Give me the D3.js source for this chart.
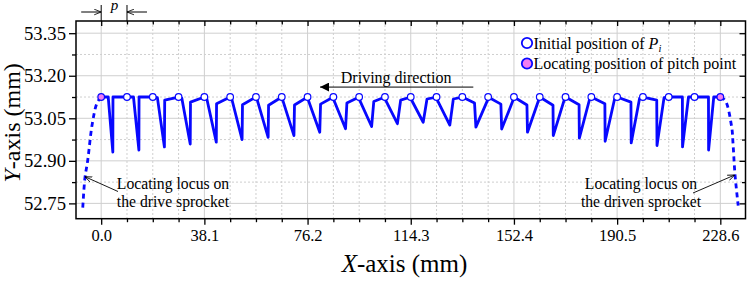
<!DOCTYPE html>
<html>
<head>
<meta charset="utf-8">
<script src="https://cdn.jsdelivr.net/npm/d3@7"></script>
<style>
  body { margin: 0; background: #fff; }
  svg text { font-family: "Liberation Serif", "Times New Roman", serif; fill: #000; }
</style>
</head>
<body>
<div id="chart"></div>
<script>
// pitch points P_i (mm)
const pitchX = [0, 9.525, 19.05, 28.575, 38.1, 47.625, 57.15, 66.675, 76.2, 85.725, 95.25, 104.775,
  114.3, 123.825, 133.35, 142.875, 152.4, 161.925, 171.45, 180.975, 190.5, 200.025, 209.55, 219.075, 228.6];
const pitchY = [53.125, 53.125, 53.125, 53.125, 53.125, 53.125, 53.125, 53.125, 53.125, 53.125, 53.125, 53.125,
  53.125, 53.125, 53.125, 53.125, 53.125, 53.125, 53.125, 53.125, 53.125, 53.125, 53.125, 53.125, 53.125];

// per-pitch trajectory points, x as offset (mm) from the start pitch point
const segAx = [2.6, 2.4, 1.7, 1.2, 0.9, 0.6, 0.4, 0.3, 0.2, 0.1, 0.1, 0.1, 0.1, 0.1, 4.5, 4.7, 4.8, 4.9, 5.0, 5.0, 5.1, 5.1, 5.05, 5.15];
const segAy = [53.125, 53.125, 53.123, 53.121, 53.119, 53.118, 53.117, 53.116, 53.116, 53.116, 53.116, 53.117,
  53.118, 53.118, 53.104, 53.100, 53.097, 53.096, 53.098, 53.101, 53.107, 53.114, 53.125, 53.125];
const segMx = [4.3, 4.4, 4.3, 4.3, 4.4, 4.4, 4.5, 4.5, 4.5, 4.5, 4.6, 4.6, 4.6, 4.9, 5.0, 5.0, 5.0, 5.0, 5.1, 5.1, 5.2, 5.2, 5.1, 5.2];
const segMy = [52.931, 52.938, 52.949, 52.959, 52.966, 52.975, 52.983, 52.989, 53.001, 53.013, 53.021, 53.031,
  53.036, 53.026, 53.019, 53.012, 53.001, 52.989, 52.980, 52.969, 52.963, 52.954, 52.949, 52.938];
const segBx = [4.35, 4.45, 4.4, 4.4, 4.5, 4.55, 4.65, 4.7, 4.8, 5.0, 5.4, 5.8, 6.0, 6.2, 9.4, 9.3, 9.2, 9.1, 8.9, 8.6, 8.3, 7.8, 7.3, 7.1];
const segBy = [53.125, 53.125, 53.114, 53.107, 53.101, 53.098, 53.096, 53.097, 53.100, 53.104, 53.109, 53.114,
  53.118, 53.118, 53.116, 53.116, 53.116, 53.117, 53.118, 53.119, 53.121, 53.123, 53.125, 53.125];

// sprocket loci (dashed)
const driveLocusX = [0, -1.5, -3.3, -5.0, -6.0, -6.8];
const driveLocusY = [53.125, 53.105, 53.03, 52.90, 52.84, 52.735];
const drivenLocusX = [228.6, 230.4, 232.8, 233.3, 234.0, 235.2];
const drivenLocusY = [53.125, 53.113, 53.019, 52.96, 52.854, 52.742];

// axes
const xMajor = [0, 38.1, 76.2, 114.3, 152.4, 190.5, 228.6];
const xMinor = [9.525, 19.05, 28.575, 47.625, 57.15, 66.675, 85.725, 95.25, 104.775, 123.825, 133.35, 142.875,
  161.925, 171.45, 180.975, 200.025, 209.55, 219.075];
const yMajor = [52.75, 52.90, 53.05, 53.20, 53.35];
const yMinor = [52.825, 52.975, 53.125, 53.275];

const W = 747, H = 283;
const svg = d3.select("#chart").append("svg").attr("width", W).attr("height", H);

const pLeft = 76, pRight = 745.5, pTop = 21, pBottom = 218.7;
const x = d3.scaleLinear().domain([-9.3, 237.9]).range([pLeft, pRight]);
const y = d3.scaleLinear().domain([52.696, 53.393]).range([pBottom, pTop]);

// grid
const grid = svg.append("g");
grid.selectAll(".vmaj").data(xMajor).join("line")
  .attr("x1", d => x(d)).attr("x2", d => x(d)).attr("y1", pTop).attr("y2", pBottom)
  .attr("stroke", "#cfcfcf").attr("stroke-width", 1);
grid.selectAll(".vmin").data(xMinor).join("line")
  .attr("x1", d => x(d)).attr("x2", d => x(d)).attr("y1", pTop).attr("y2", pBottom)
  .attr("stroke", "#cfcfcf").attr("stroke-width", 1).attr("stroke-dasharray", "2,2");
grid.selectAll(".hmaj").data(yMajor).join("line")
  .attr("x1", pLeft).attr("x2", pRight).attr("y1", d => y(d)).attr("y2", d => y(d))
  .attr("stroke", "#cfcfcf").attr("stroke-width", 1);
grid.selectAll(".hmin").data(yMinor).join("line")
  .attr("x1", pLeft).attr("x2", pRight).attr("y1", d => y(d)).attr("y2", d => y(d))
  .attr("stroke", "#cfcfcf").attr("stroke-width", 1).attr("stroke-dasharray", "2,2");

// axes: bottom/left outward ticks with labels, top/right inward ticks
function styleAxis(size) {
  return g => {
    g.select(".domain").remove();
    g.selectAll(".tick line").attr("stroke", "#000").attr("stroke-width", 1.3);
    g.selectAll(".tick text").style("font-size", size).style("font-family", "Liberation Serif");
  };
}
svg.append("g").attr("transform", `translate(0,${pBottom})`)
  .call(d3.axisBottom(x).tickValues(xMajor).tickSize(6).tickPadding(5).tickFormat(d3.format(".1f")))
  .call(styleAxis("16.5px"));
svg.append("g").attr("transform", `translate(0,${pBottom})`)
  .call(d3.axisBottom(x).tickValues(xMinor).tickSize(3.5).tickFormat(""))
  .call(styleAxis("16px"));
svg.append("g").attr("transform", `translate(${pLeft},0)`)
  .call(d3.axisLeft(y).tickValues(yMajor).tickSize(7).tickPadding(3).tickFormat(d3.format(".2f")))
  .call(styleAxis("18.7px"));
svg.append("g").attr("transform", `translate(${pLeft},0)`)
  .call(d3.axisLeft(y).tickValues(yMinor).tickSize(4).tickFormat(""))
  .call(styleAxis("16px"));
svg.append("g").attr("transform", `translate(0,${pTop})`)
  .call(d3.axisTop(x).tickValues(xMajor).tickSize(-5).tickFormat(""))
  .call(styleAxis("16px"));
svg.append("g").attr("transform", `translate(0,${pTop})`)
  .call(d3.axisTop(x).tickValues(xMinor).tickSize(-3.5).tickFormat(""))
  .call(styleAxis("16px"));
svg.append("g").attr("transform", `translate(${pRight},0)`)
  .call(d3.axisRight(y).tickValues(yMajor).tickSize(-6).tickFormat(""))
  .call(styleAxis("16px"));
svg.append("g").attr("transform", `translate(${pRight},0)`)
  .call(d3.axisRight(y).tickValues(yMinor).tickSize(-3.5).tickFormat(""))
  .call(styleAxis("16px"));

svg.append("rect").attr("x", pLeft).attr("y", pTop)
  .attr("width", pRight - pLeft).attr("height", pBottom - pTop)
  .attr("fill", "none").attr("stroke", "#000").attr("stroke-width", 1.5);

// axis titles
svg.append("text").attr("x", x(112)).attr("y", 272).attr("text-anchor", "middle")
  .style("font-size", "25px")
  .html('<tspan font-style="italic">X</tspan>-axis (mm)');
svg.append("text").attr("transform", `translate(20,${(pTop + pBottom) / 2 + 3}) rotate(-90)`)
  .attr("text-anchor", "middle").style("font-size", "24px")
  .html('<tspan font-style="italic">Y</tspan>-axis (mm)');

// trajectory
const pts = [];
segAx.forEach((ax, k) => {
  const x0 = pitchX[k];
  pts.push([x0, pitchY[k]]);
  pts.push([x0 + ax, segAy[k]]);
  pts.push([x0 + segMx[k], segMy[k]]);
  pts.push([x0 + segBx[k], segBy[k]]);
});
pts.push([pitchX[pitchX.length - 1], pitchY[pitchY.length - 1]]);

const line = d3.line().x(d => x(d[0])).y(d => y(d[1]));
svg.append("path").datum(pts).attr("d", line)
  .attr("fill", "none").attr("stroke", "#0808ff").attr("stroke-width", 2.8)
  .attr("stroke-linejoin", "round");

const curve = d3.line().x(d => x(d[0])).y(d => y(d[1])).curve(d3.curveCatmullRom);
svg.append("path").datum(driveLocusX.map((d, i) => [d, driveLocusY[i]])).attr("d", curve)
  .attr("fill", "none").attr("stroke", "#0808ff").attr("stroke-width", 2.8).attr("stroke-dasharray", "5,4");
svg.append("path").datum(drivenLocusX.map((d, i) => [d, drivenLocusY[i]])).attr("d", curve)
  .attr("fill", "none").attr("stroke", "#0808ff").attr("stroke-width", 2.8).attr("stroke-dasharray", "5,4");

// pitch point markers
const last = pitchX.length - 1;
svg.selectAll(".pt").data(pitchX).join("circle")
  .attr("cx", d => x(d)).attr("cy", (d, i) => y(pitchY[i])).attr("r", 3.3)
  .attr("fill", (d, i) => (i === 0 || i === last) ? "#f27ef2" : "#fff")
  .attr("stroke", "#0808ff").attr("stroke-width", 1.2);

// legend
const lg = svg.append("g");
lg.append("circle").attr("cx", 527).attr("cy", 43).attr("r", 5.2)
  .attr("fill", "#fff").attr("stroke", "#0808ff").attr("stroke-width", 1.8);
lg.append("text").attr("x", 533.5).attr("y", 48.5).style("font-size", "16px")
  .html('Initial position of <tspan font-style="italic">P</tspan><tspan font-style="italic" font-size="10.5px" dy="3">i</tspan>');
lg.append("circle").attr("cx", 527).attr("cy", 63.5).attr("r", 5.2)
  .attr("fill", "#f27ef2").attr("stroke", "#0808ff").attr("stroke-width", 1.8);
lg.append("text").attr("x", 533.5).attr("y", 69).style("font-size", "16px")
  .text("Locating position of pitch point");

// markers
const defs = svg.append("defs");
defs.append("marker").attr("id", "open").attr("viewBox", "0 0 10 10").attr("refX", 10).attr("refY", 5)
  .attr("markerWidth", 7).attr("markerHeight", 7).attr("markerUnits", "userSpaceOnUse").attr("orient", "auto")
  .append("path").attr("d", "M0,1 L10,5 L0,9").attr("fill", "none").attr("stroke", "#000").attr("stroke-width", 1.2);
defs.append("marker").attr("id", "solid").attr("viewBox", "0 0 10 10").attr("refX", 10).attr("refY", 5)
  .attr("markerWidth", 10).attr("markerHeight", 9).attr("markerUnits", "userSpaceOnUse").attr("orient", "auto")
  .append("path").attr("d", "M0,0 L10,5 L0,10 Z").attr("fill", "#000");

// driving direction
svg.append("line").attr("x1", x(137.4)).attr("y1", y(53.16)).attr("x2", x(80.8)).attr("y2", y(53.16))
  .attr("stroke", "#000").attr("stroke-width", 1).attr("marker-end", "url(#solid)");
svg.append("text").attr("x", x(108.9)).attr("y", y(53.16) - 4.5).attr("text-anchor", "middle")
  .style("font-size", "16px").text("Driving direction");

// pitch dimension
const pg = svg.append("g").attr("stroke", "#000").attr("stroke-width", 1);
[0, 9.525].forEach(d => pg.append("line").attr("x1", x(d)).attr("x2", x(d)).attr("y1", 5).attr("y2", pTop));
pg.append("line").attr("x1", x(0) - 20).attr("x2", x(0)).attr("y1", 12).attr("y2", 12).attr("marker-end", "url(#open)");
pg.append("line").attr("x1", x(9.525) + 20).attr("x2", x(9.525)).attr("y1", 12).attr("y2", 12).attr("marker-end", "url(#open)");
svg.append("text").attr("x", x(4.9)).attr("y", 10).attr("text-anchor", "middle")
  .style("font-size", "15px").style("font-style", "italic").text("p");

// locus annotations
function note(tx, lines, from, to) {
  const t = svg.append("text").attr("x", tx).attr("y", 188.5).attr("text-anchor", "middle").style("font-size", "15.7px");
  lines.forEach((s, i) => t.append("tspan").attr("x", tx).attr("dy", i ? 18.5 : 0).text(s));
  svg.append("line").attr("x1", from[0]).attr("y1", from[1]).attr("x2", x(to[0])).attr("y2", y(to[1]))
    .attr("stroke", "#000").attr("stroke-width", 0.9).attr("marker-end", "url(#open)");
}
note(173, ["Locating locus on", "the drive sprocket"], [118, 191.5], [-5.98, 52.844]);
note(641, ["Locating locus on", "the driven sprocket"], [693, 193], [233.9, 52.85]);
</script>
</body>
</html>
